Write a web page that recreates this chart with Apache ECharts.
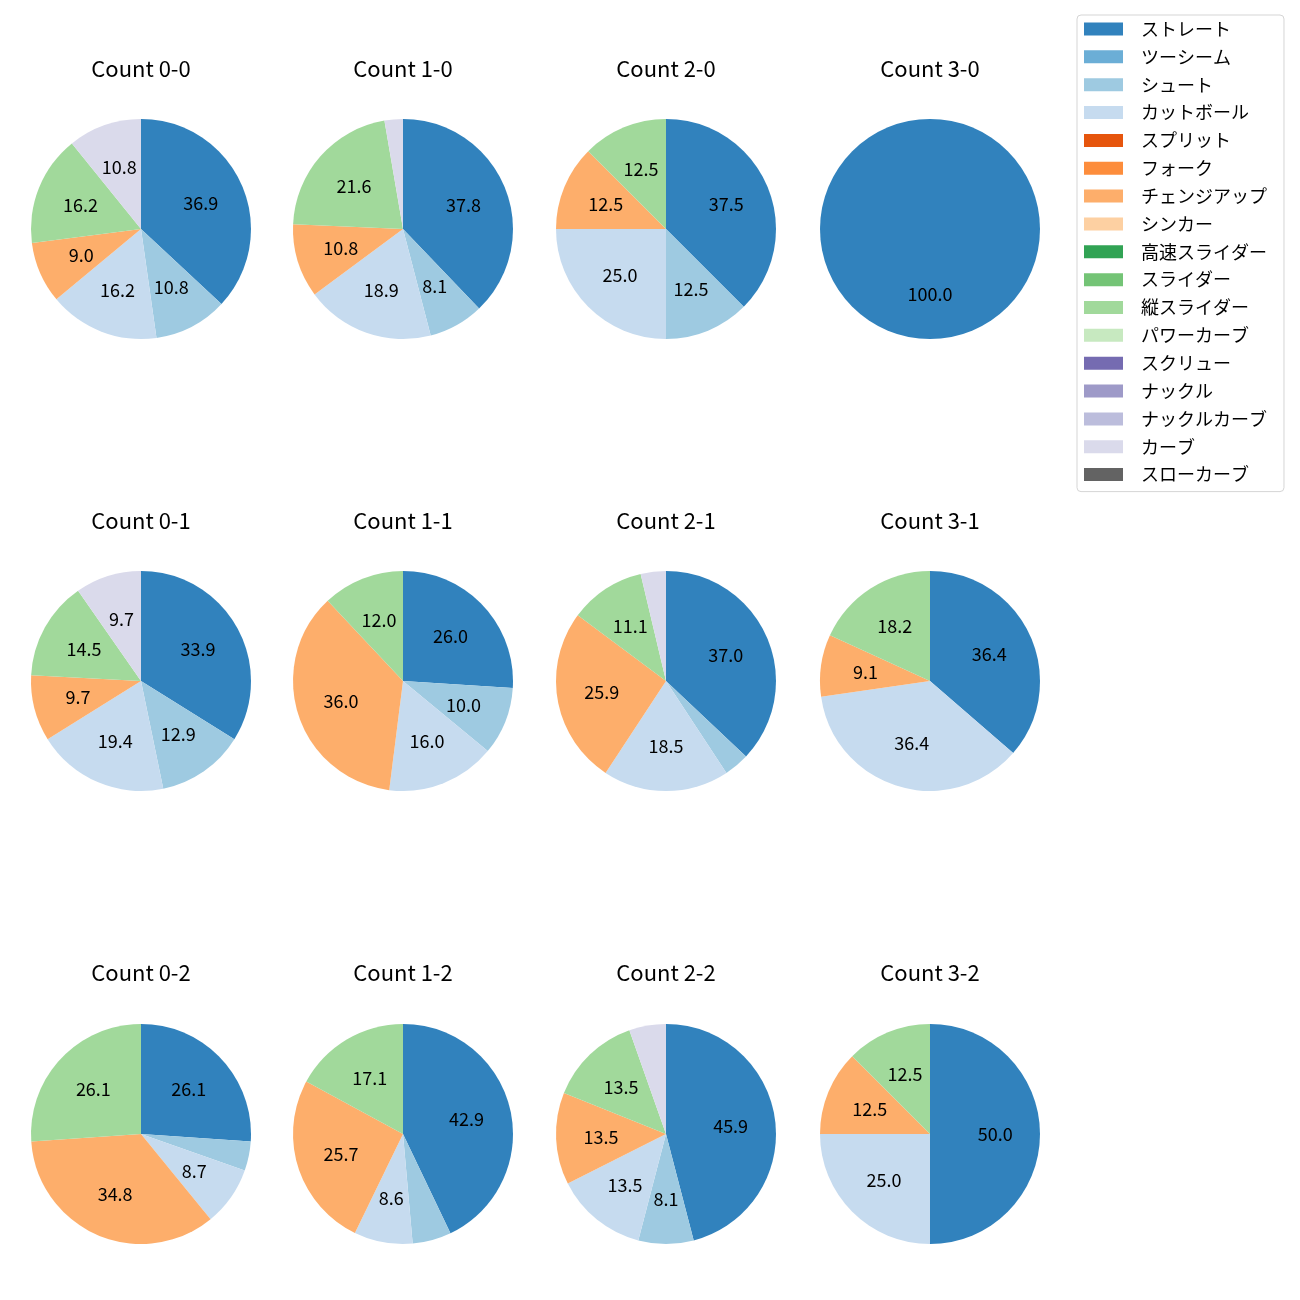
<!DOCTYPE html>
<html>
<head>
<meta charset="utf-8">
<script src="https://cdn.jsdelivr.net/npm/echarts@6/dist/echarts.min.js"></script>
<style>
  html, body { margin: 0; padding: 0; background: #fff; }
  #chart { width: 1300px; height: 1300px; }
</style>
</head>
<body>
<div id="chart"></div>
<script>
// ---- Data ----
const pitchTypes = ['ストレート','ツーシーム','シュート','カットボール','スプリット','フォーク','チェンジアップ','シンカー','高速スライダー','スライダー','縦スライダー','パワーカーブ','スクリュー','ナックル','ナックルカーブ','カーブ','スローカーブ'];
const pitchColors = ['#3182bd','#6baed6','#9ecae1','#c6dbef','#e6550d','#fd8d3c','#fdae6b','#fdd0a2','#31a354','#74c476','#a1d99b','#c7e9c0','#756bb1','#9e9ac8','#bcbddc','#dadaeb','#636363'];
const countTitles = ['Count 0-0','Count 1-0','Count 2-0','Count 3-0','Count 0-1','Count 1-1','Count 2-1','Count 3-1','Count 0-2','Count 1-2','Count 2-2','Count 3-2'];
// percentages per pitch type (order of pitchTypes)
const count00 = [36.9, 0, 10.8, 16.2, 0, 0, 9.0, 0, 0, 0, 16.2, 0, 0, 0, 0, 10.8, 0];
const count10 = [37.8, 0, 8.1, 18.9, 0, 0, 10.8, 0, 0, 0, 21.6, 0, 0, 0, 0, 2.7, 0];
const count20 = [37.5, 0, 12.5, 25.0, 0, 0, 12.5, 0, 0, 0, 12.5, 0, 0, 0, 0, 0, 0];
const count30 = [100.0, 0, 0, 0, 0, 0, 0, 0, 0, 0, 0, 0, 0, 0, 0, 0, 0];
const count01 = [33.9, 0, 12.9, 19.4, 0, 0, 9.7, 0, 0, 0, 14.5, 0, 0, 0, 0, 9.7, 0];
const count11 = [26.0, 0, 10.0, 16.0, 0, 0, 36.0, 0, 0, 0, 12.0, 0, 0, 0, 0, 0, 0];
const count21 = [37.0, 0, 3.7, 18.5, 0, 0, 25.9, 0, 0, 0, 11.1, 0, 0, 0, 0, 3.7, 0];
const count31 = [36.4, 0, 0, 36.4, 0, 0, 9.1, 0, 0, 0, 18.2, 0, 0, 0, 0, 0, 0];
const count02 = [26.1, 0, 4.3, 8.7, 0, 0, 34.8, 0, 0, 0, 26.1, 0, 0, 0, 0, 0, 0];
const count12 = [42.9, 0, 5.7, 8.6, 0, 0, 25.7, 0, 0, 0, 17.1, 0, 0, 0, 0, 0, 0];
const count22 = [45.9, 0, 8.1, 13.5, 0, 0, 13.5, 0, 0, 0, 13.5, 0, 0, 0, 0, 5.4, 0];
const count32 = [50.0, 0, 0, 25.0, 0, 0, 12.5, 0, 0, 0, 12.5, 0, 0, 0, 0, 0, 0];
const countValues = [count00, count10, count20, count30, count01, count11, count21, count31, count02, count12, count22, count32];
const LABEL_MIN = 6;

// ---- Layout ----
const FONT = '"Noto Sans CJK JP", "Noto Sans", sans-serif';
const colCenters = [141, 403, 666, 930];
const rowCenters = [229, 681, 1134];
const titleCenters = [69, 521, 973];
const R = 110;

const titles = [];
const series = [];
countTitles.forEach((t, i) => {
  const col = i % 4, row = Math.floor(i / 4);
  const cx = colCenters[col], cy = rowCenters[row];
  titles.push({
    text: t, left: cx, top: titleCenters[row] - 11, textAlign: 'center', padding: 0,
    textStyle: { fontSize: 22, fontWeight: 'normal', fontFamily: FONT, color: '#000' }
  });
  const vals = countValues[i];
  const data = pitchTypes.map((n, k) => ({ name: n, value: vals[k], itemStyle: { color: pitchColors[k] } }));
  series.push({
    type: 'pie', center: [cx, cy], radius: [0, R], startAngle: 90, clockwise: true,
    avoidLabelOverlap: false, silent: true,
    itemStyle: { borderWidth: 0 },
    label: { show: false }, labelLine: { show: false },
    emphasis: { disabled: true },
    data: data
  });
  series.push({
    type: 'pie', center: [cx, cy], radius: [R * 0.13, R], startAngle: 90, clockwise: true,
    avoidLabelOverlap: false, silent: true,
    itemStyle: { color: 'rgba(0,0,0,0)', borderWidth: 0 },
    label: {
      show: true, position: 'inside', fontSize: 18, fontFamily: FONT, color: '#000',
      formatter: p => (p.value >= LABEL_MIN ? p.value.toFixed(1) : '')
    },
    labelLine: { show: false },
    emphasis: { disabled: true },
    data: pitchTypes.map((n, k) => ({ name: n, value: vals[k] }))
  });
});

const chart = echarts.init(document.getElementById('chart'), null, { renderer: 'canvas' });
chart.setOption({
  animation: false,
  backgroundColor: '#fff',
  title: titles,
  legend: {
    orient: 'vertical', left: 1077, top: 15,
    data: pitchTypes, icon: 'rect', itemWidth: 39, itemHeight: 13, itemGap: 9.85,
    padding: [5, 17, 8, 7],
    borderColor: '#d5d5d5', borderWidth: 1, borderRadius: 4, backgroundColor: '#fff',
    selectedMode: false,
    itemStyle: { borderWidth: 0 },
    textStyle: { fontSize: 18, lineHeight: 18, fontFamily: FONT, color: '#000', padding: [0, 0, 0, 13] }
  },
  series: series
});
</script>
</body>
</html>
